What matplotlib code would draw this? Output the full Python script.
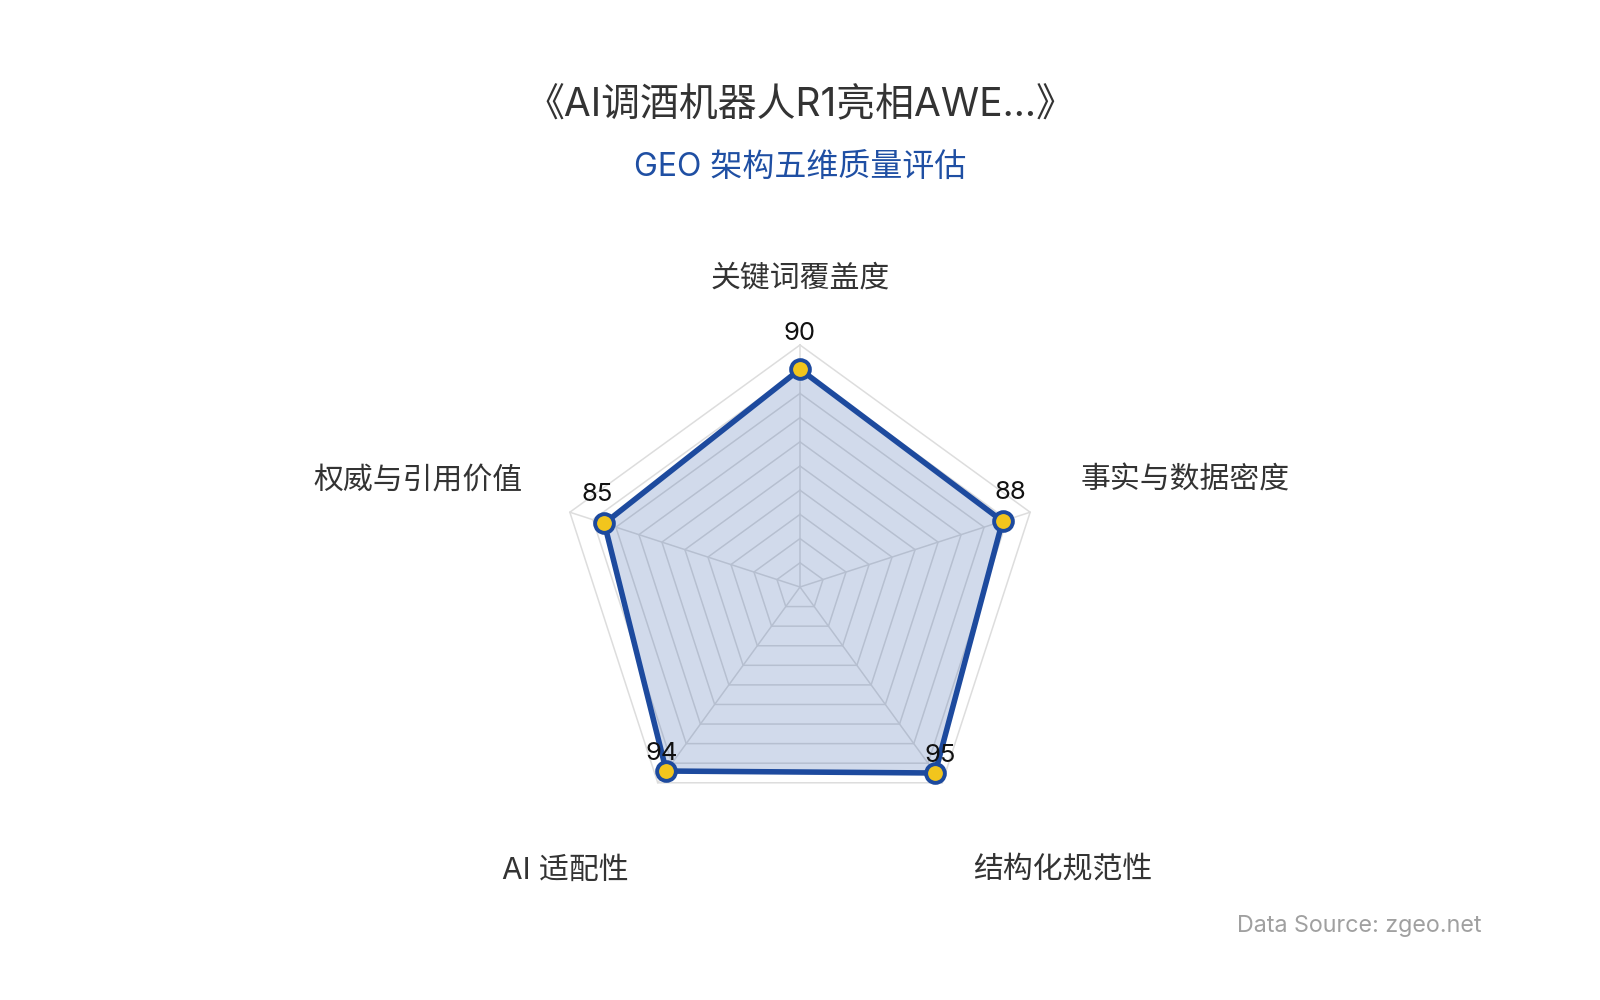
import numpy as np
import matplotlib
matplotlib.use("Agg")
import matplotlib.pyplot as plt

plt.rcParams['font.family'] = ['Inter', 'Noto Sans CJK SC', 'DejaVu Sans']

# radar data (counter-clockwise from the top)
indicators = ['关键词覆盖度', '权威与引用价值', 'AI 适配性', '结构化规范性', '事实与数据密度']
scores = [90, 85, 94, 95, 88]
max_score = 100
ring_step = 10

title = '《AI调酒机器人R1亮相AWE...》'
subtitle = 'GEO 架构五维质量评估'
source = 'Data Source: zgeo.net'

blue = '#1d4a9e'
gold = '#f2c51d'
grid_c = '#dddddd'

n = len(indicators)
angles = np.linspace(0, 2 * np.pi, n, endpoint=False)
closed = np.append(angles, angles[0])

fig = plt.figure(figsize=(16, 10), dpi=100)
ax = fig.add_axes([0.34875, 0.171, 0.3025, 0.484], projection='polar')
ax.set_theta_offset(np.pi / 2)
ax.set_ylim(0, max_score)
ax.grid(False)
ax.spines['polar'].set_visible(False)
ax.set_xticks([])
ax.set_yticks([])
ax.patch.set_visible(False)

# polygon rings and spokes
for r in range(ring_step, max_score + 1, ring_step):
    ax.plot(closed, [r] * (n + 1), color=grid_c, lw=1.1, zorder=1, clip_on=False)
for a in angles:
    ax.plot([a, a], [0, max_score], color=grid_c, lw=1.1, zorder=1, clip_on=False)

vals = np.append(scores, scores[0])
ax.fill(closed, vals, color=blue, alpha=0.2, lw=0, zorder=2)
ax.plot(closed, vals, color=blue, lw=4, zorder=3, clip_on=False)
ax.plot(angles, scores, 'o', ms=13.5, mfc=gold, mec=blue, mew=2.8, zorder=4, clip_on=False)

# value labels
for a, v in zip(angles, scores):
    th = a + np.pi / 2
    ax.annotate(str(v), (a, v), xytext=(8 * np.cos(th), 26 + 10 * np.sin(th)),
                textcoords='offset pixels', ha='center', va='center',
                fontsize=18.5, color='#111111', zorder=5)

# indicator names
name_off = [(0, 67, 'center'), (-47, 32, 'right'), (-29, -88, 'right'),
            (31, -88, 'left'), (50, 32, 'left')]
for a, name, (dx, dy, ha) in zip(angles, indicators, name_off):
    ax.annotate(name, (a, max_score), xytext=(dx, dy), textcoords='offset pixels',
                ha=ha, va='center', fontsize=21.5, color='#333333')

fig.text(0.5, 0.894, title, ha='center', va='center', fontsize=28, color='#333333')
fig.text(0.5, 0.833, subtitle, ha='center', va='center', fontsize=23, color='#1f4fa3')
fig.text(0.926, 0.074, source, ha='right', va='center', fontsize=16.8, color='#a0a0a0')

fig.savefig('out.png', dpi=100, facecolor='white')
